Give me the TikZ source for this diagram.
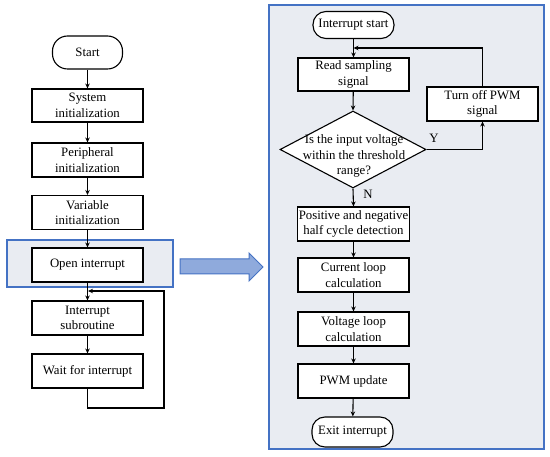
\documentclass[tikz,border=0pt]{standalone}
\usepackage{fontspec}
\setmainfont{Liberation Serif}
\usetikzlibrary{arrows.meta,shapes.geometric}
\definecolor{panelfill}{HTML}{E9ECF2}
\definecolor{panelblue}{HTML}{4472C4}
\definecolor{arrowfill}{HTML}{8FAADC}
\begin{document}
\begin{tikzpicture}[x=1pt,y=-1pt,
  txt/.style={font=\fontsize{12.8}{15.5}\selectfont},
  box/.style={txt, draw=black, fill=white, line width=1.1pt, minimum width=111pt, minimum height=34pt, inner sep=1pt, align=center},
  term/.style={txt, draw=black, fill=white, line width=1.1pt, rounded corners=13pt, minimum height=30pt, inner sep=2pt, align=center},
  decision/.style={diamond, draw=black, fill=white, line width=1.1pt, minimum width=146pt, minimum height=77pt, inner sep=0pt},
  conn/.style={line width=1.1pt, -{Stealth[length=5pt,width=4.5pt]}},
  frame/.style={draw=panelblue, fill=panelfill, line width=1.6pt},
  bigarrow/.style={draw=panelblue, fill=arrowfill, line width=1pt}]
\useasboundingbox (0,0) rectangle (550,457);
\fill[white] (0,0) rectangle (550,457);

% frames
\draw[frame] (269,5) rectangle (544,449);
\draw[frame] (7,240) rectangle (173,287);
\draw[bigarrow] (180,259) -- (249,259) -- (249,253) -- (263,267) -- (249,281) -- (249,274) -- (180,274) -- cycle;

% left flow
\node[term, minimum width=70pt, minimum height=33pt, rounded corners=15pt] (start) at (87.5,52.5) {Start};
\node[box, minimum height=33pt] (sys) at (87.5,105.5) {System\\initialization};
\node[box] (per) at (87.5,160) {Peripheral\\initialization};
\node[box] (var) at (87.5,212.5) {Variable\\initialization};
\node[box] (open) at (87.5,265) {Open interrupt};
\node[box] (sub) at (87.5,318) {Interrupt\\subroutine};
\node[box] (wait) at (87.5,371) {Wait for interrupt};

\draw[conn] (start) -- (sys);
\draw[conn] (sys) -- (per);
\draw[conn] (per) -- (var);
\draw[conn] (var) -- (open);
\draw[conn] (open) -- (sub);
\draw[conn] (sub) -- (wait);
\coordinate (loopA) at (87.5,408);
\coordinate (loopB) at (164,291);
\coordinate (loopC) at (88,291);
\draw[conn] (wait.south) -- (loopA) -| (loopB) -- (loopC);

% right flow
\node[term, minimum width=81pt, minimum height=27pt] (istart) at (353.5,25) {Interrupt start};
\node[box, minimum height=33pt] (read) at (353.5,74.5) {Read sampling\\signal};
\node[decision] (dia) at (353,149.5) {};
\node[txt, align=center, inner sep=0pt] (diatext) at (354,156) {Is the input voltage\\within the threshold\\range?};
\node[box] (turn) at (482.5,104) {Turn off PWM\\signal};
\node[box] (pos) at (353.5,224) {Positive and negative\\half cycle detection};
\node[box] (cur) at (353.5,275) {Current loop\\calculation};
\node[box] (vol) at (353.5,329) {Voltage loop\\calculation};
\node[box] (pwm) at (353.5,381) {PWM update};
\node[term, minimum width=81pt, minimum height=30pt] (exit) at (352.5,432) {Exit interrupt};

\draw[conn] (istart) -- (read);
\draw[conn] (read) -- (dia.north);
\draw[conn] (dia.south) -- (pos.north);
\draw[conn] (dia.east) -| (turn.south);
\coordinate (backR) at (353.5,48);
\draw[conn] (turn.north) |- (backR);
\draw[conn] (pos) -- (cur);
\draw[conn] (cur) -- (vol);
\draw[conn] (vol) -- (pwm);
\draw[conn] (pwm) -- (exit);

\node[txt] (ylab) at (434,138) {Y};
\node[txt] (nlab) at (368,194) {N};
\end{tikzpicture}
\end{document}
